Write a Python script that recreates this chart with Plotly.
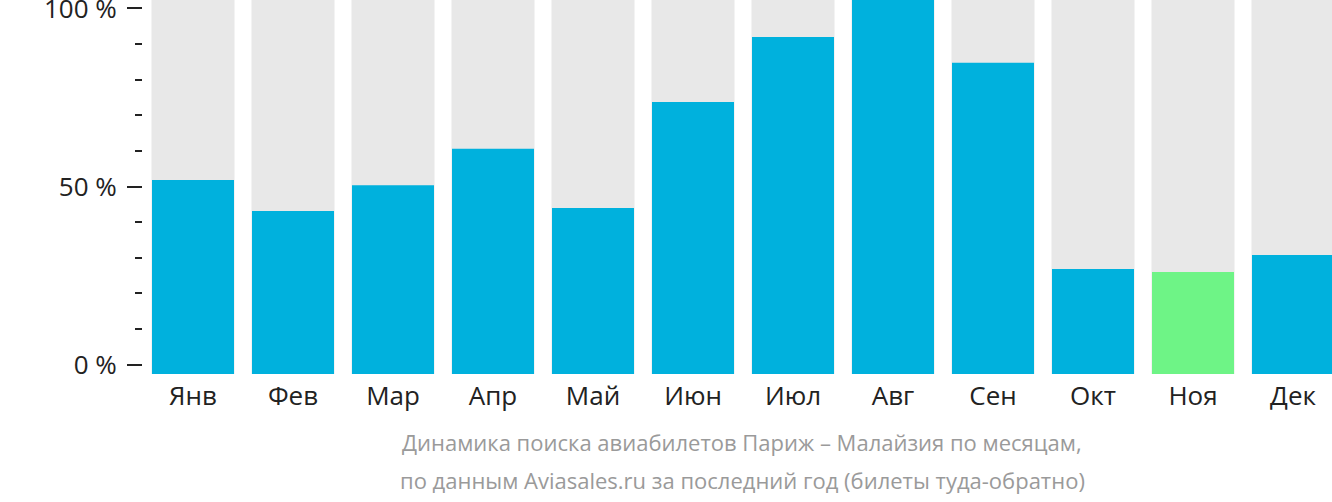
import plotly.graph_objects as go

months = ["Янв", "Фев", "Мар", "Апр", "Май", "Июн", "Июл", "Авг", "Сен", "Окт", "Ноя", "Дек"]
# relative search share (max month = 100)
values = [51.9, 43.6, 50.5, 60.2, 44.4, 72.7, 90.1, 100.0, 83.2, 28.1, 27.3, 31.8]
highlight = "Ноя"
tick_labels = ["0 %", "50 %", "100 %"]
tick_pct = [0, 50, 100]
caption_lines = [
    "Динамика поиска авиабилетов Париж – Малайзия по месяцам,",
    "по данным Aviasales.ru за последний год (билеты туда-обратно)",
]

BLUE = "#00b1dd"
GREEN = "#6ef486"
BG = "#e8e8e8"

# axis offset: 0 % tick sits slightly above bar base
off, scale = 2.54, 0.9519
tickvals = [off + scale * p for p in tick_pct]

x = list(range(len(months)))
colors = [GREEN if m == highlight else BLUE for m in months]

fig = go.Figure()
fig.add_trace(go.Bar(x=x, y=[100] * len(months), marker=dict(color=BG, line=dict(width=0)),
                     width=0.83, hoverinfo="skip"))
fig.add_trace(go.Bar(x=x, y=values, marker=dict(color=colors, line=dict(width=0)),
                     width=0.82))

fig.update_layout(
    width=1332, height=502,
    margin=dict(l=143, r=0, t=0, b=128, autoexpand=False),
    barmode="overlay",
    showlegend=False,
    plot_bgcolor="white", paper_bgcolor="white",
    font=dict(family="Open Sans", color="#222222", size=26),
    xaxis=dict(range=[-0.5, 11.39], tickvals=x, ticktext=months, showgrid=False,
               zeroline=False, showline=False, ticks="", ticklabelstandoff=4,
               automargin=False, tickfont=dict(size=26, color="#222222")),
    yaxis=dict(range=[0, 100], tickvals=tickvals, ticktext=tick_labels, showgrid=False,
               zeroline=False, showline=False, ticks="outside", ticklen=15, tickwidth=2,
               tickcolor="#222222", ticklabelstandoff=5, ticklabeloverflow="allow",
               automargin=False, tickfont=dict(size=26, color="#222222"),
               minor=dict(tick0=off, dtick=scale * 10, ticks="outside", ticklen=7,
                          tickwidth=2, tickcolor="#222222", showgrid=False)),
)

for i, line in enumerate(caption_lines):
    fig.add_annotation(
        text=line,
        xref="paper", yref="paper", x=(742 - 143) / 1189, y=(374 - 442 - 38 * i) / 374,
        xanchor="center", yanchor="middle",
        showarrow=False, align="center",
        font=dict(family="Open Sans", size=22, color="#9a9a9a"),
    )

fig.write_html("out.html")
